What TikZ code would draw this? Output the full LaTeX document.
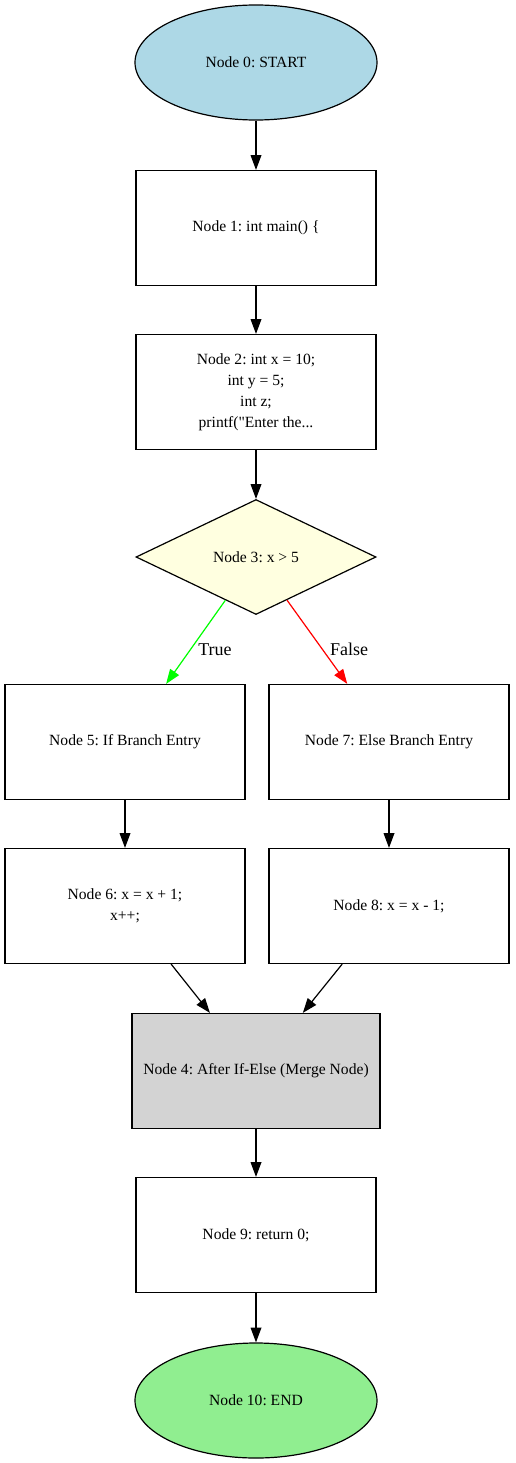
\documentclass[tikz,border=0pt]{standalone}
\usepackage{fontspec}
\setmainfont{Liberation Serif}[Ligatures=TeXOff]
\usetikzlibrary{shapes.geometric,arrows.meta}
\definecolor{lblue}{RGB}{173,216,230}
\definecolor{lyellow}{RGB}{255,255,224}
\definecolor{lgray}{RGB}{211,211,211}
\definecolor{lgreen}{RGB}{144,238,144}
\definecolor{pgreen}{RGB}{0,255,0}
\frenchspacing
\tikzset{
  base/.style={draw=black, line width=0.9pt, inner sep=0pt, align=center,
    font=\fontsize{11.7}{15.8}\selectfont, text=black},
  boxnode/.style={base, rectangle, minimum width=180pt, minimum height=86.25pt},
  ovalnode/.style={base, ellipse, minimum width=181.5pt, minimum height=86.25pt},
  decnode/.style={base, diamond, aspect=2.087, minimum width=180pt, minimum height=86.25pt},
  edge/.style={line width=0.9pt, -{Triangle[length=11pt,width=8pt]}},
  lbl/.style={font=\fontsize{13.5}{16}\selectfont, inner sep=0pt}
}
\begin{document}
\begin{tikzpicture}[x=0.75pt,y=-0.75pt]
\useasboundingbox (0,0) rectangle (515,1463);
\node[ovalnode, fill=lblue] (n0) at (256,62.5) {Node 0: START};
\node[boxnode] (n1) at (256,228) {Node 1: int main() \{};
\node[boxnode] (n2) at (256,392) {Node 2: int x = 10;\\int y = 5;\\int z;\\printf("Enter the...};
\node[decnode, fill=lyellow] (n3) at (256,557) {Node 3: x > 5};
\node[boxnode] (n5) at (125,742) {Node 5: If Branch Entry};
\node[boxnode] (n7) at (389,742) {Node 7: Else Branch Entry};
\node[boxnode] (n6) at (125,906) {Node 6: x = x + 1;\\x++;};
\node[boxnode] (n8) at (389,906) {Node 8: x = x - 1;};
\node[boxnode, fill=lgray, minimum width=186pt] (n4) at (256,1071) {Node 4: After If-Else (Merge Node)};
\node[boxnode] (n9) at (256,1235) {Node 9: return 0;};
\node[ovalnode, fill=lgreen] (n10) at (256,1400.5) {Node 10: END};
\draw[edge] (n0) -- (n1);
\draw[edge] (n1) -- (n2);
\draw[edge] (n2) -- (n3);
\draw[edge, pgreen, fill=pgreen] (n3) -- (n5);
\draw[edge, red, fill=red] (n3) -- (n7);
\draw[edge] (n5) -- (n6);
\draw[edge] (n7) -- (n8);
\draw[edge] (n6) -- (n4);
\draw[edge] (n8) -- (n4);
\draw[edge] (n4) -- (n9);
\draw[edge] (n9) -- (n10);
\node[lbl] (ltrue) at (215,649.5) {True};
\node[lbl] (lfalse) at (349,649.5) {False};
\end{tikzpicture}
\end{document}
